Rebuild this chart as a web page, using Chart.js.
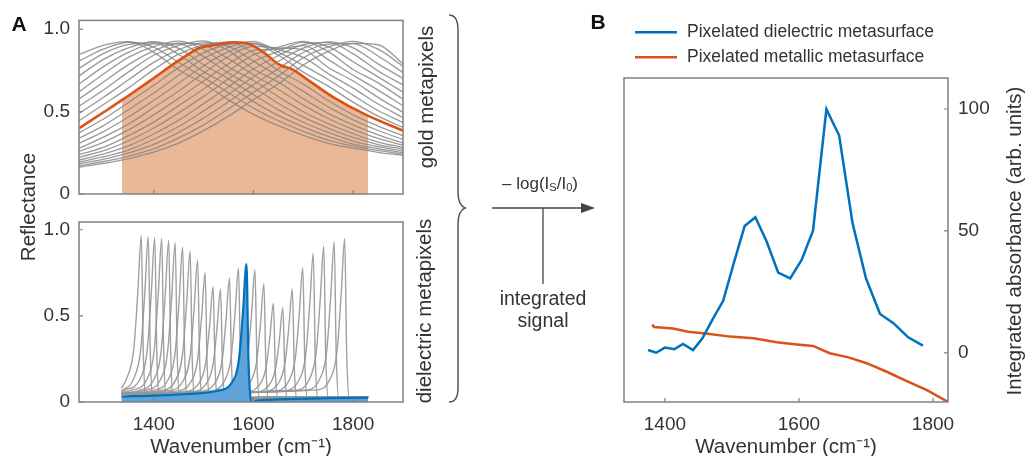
<!DOCTYPE html>
<html><head><meta charset="utf-8">
<script src="https://cdn.jsdelivr.net/npm/chart.js@4.4.0/dist/chart.umd.min.js"></script>
<style>
html,body{margin:0;padding:0;background:#fff;overflow:hidden;}
body{width:1026px;height:456px;position:relative;font-family:'Liberation Sans',Arial,sans-serif;color:#333;}
canvas{position:absolute;left:0;top:0;}
.t{position:absolute;white-space:nowrap;line-height:1;}
.c{transform:translate(-50%,-50%);}
.r{transform:translate(-50%,-50%) rotate(-90deg);}
.l{transform:translate(0,-50%);}
sub{font-size:0.65em;vertical-align:-0.25em;}
</style></head><body>
<canvas id="c1" width="1026" height="456"></canvas>
<canvas id="c2" width="1026" height="456"></canvas>
<canvas id="c3" width="1026" height="456"></canvas>
<svg width="1026" height="456" style="position:absolute;left:0;top:0;">
  <path d="M449,15 Q458,15 458,30 L458,192 Q458,205 465,208 Q458,211 458,224 L458,388 Q458,402 449,402" fill="none" stroke="#555" stroke-width="1.5"/>
  <line x1="492" y1="208" x2="584" y2="208" stroke="#444" stroke-width="1.3"/>
  <polygon points="595,208 581,203 581,213" fill="#444"/>
  <line x1="543" y1="208" x2="543" y2="284" stroke="#444" stroke-width="1.3"/>
  <line x1="635" y1="32.3" x2="677" y2="32.3" stroke="rgb(0,114,189)" stroke-width="2.5"/>
  <line x1="635" y1="57.3" x2="677" y2="57.3" stroke="rgb(217,83,25)" stroke-width="2.5"/>
</svg>
<div class="t c" style="left:19px;top:22.5px;font-size:21px;font-weight:bold;color:#111;">A</div>
<div class="t c" style="left:598px;top:20.5px;font-size:21px;font-weight:bold;color:#111;">B</div>
<div class="t r" style="left:28px;top:207px;font-size:20.5px;">Reflectance</div>
<div class="t r" style="left:426px;top:97px;font-size:20.5px;">gold metapixels</div>
<div class="t r" style="left:424px;top:311px;font-size:20.5px;">dielectric metapixels</div>
<div class="t r" style="left:1014px;top:241px;font-size:20.5px;">Integrated absorbance (arb. units)</div>
<div class="t c" style="left:540px;top:184px;font-size:17px;">– log(I<sub>S</sub>/I<sub>0</sub>)</div>
<div class="t c" style="left:543px;top:299px;font-size:19.5px;">integrated</div>
<div class="t c" style="left:543px;top:321px;font-size:19.5px;">signal</div>
<div class="t l" style="left:687px;top:31.7px;font-size:17.5px;">Pixelated dielectric metasurface</div>
<div class="t l" style="left:687px;top:57.2px;font-size:17.5px;">Pixelated metallic metasurface</div>
<script>
// ---------- DATA ----------
const wavenumberTicks = [1400, 1600, 1800];
const reflectanceTicks = [0, 0.5, 1];
const absorbanceTicks = [0, 50, 100];

// Panel A top: gold metapixel reflectance spectra (common wavenumber grid)
const goldWavenumbers = [1250,1300,1350,1400,1450,1500,1550,1600,1650,1700,1750,1800,1850,1900];
const goldReflectance = [
  [0.846,0.903,0.924,0.859,0.752,0.670,0.571,0.483,0.414,0.355,0.307,0.278,0.253,0.234],
  [0.806,0.880,0.920,0.890,0.797,0.707,0.614,0.521,0.444,0.380,0.327,0.290,0.264,0.242],
  [0.762,0.853,0.907,0.917,0.846,0.742,0.658,0.560,0.475,0.407,0.349,0.303,0.275,0.251],
  [0.716,0.818,0.887,0.923,0.883,0.784,0.698,0.602,0.510,0.435,0.373,0.321,0.287,0.261],
  [0.667,0.774,0.860,0.910,0.910,0.833,0.733,0.646,0.549,0.466,0.400,0.343,0.300,0.272],
  [0.620,0.729,0.830,0.894,0.927,0.876,0.771,0.688,0.590,0.499,0.427,0.366,0.315,0.283],
  [0.576,0.681,0.786,0.868,0.914,0.902,0.819,0.723,0.634,0.539,0.458,0.392,0.337,0.296],
  [0.532,0.632,0.742,0.841,0.901,0.929,0.868,0.758,0.678,0.578,0.489,0.419,0.359,0.309],
  [0.488,0.588,0.694,0.798,0.875,0.917,0.895,0.806,0.714,0.622,0.528,0.449,0.385,0.331],
  [0.444,0.544,0.645,0.754,0.848,0.904,0.922,0.855,0.749,0.666,0.567,0.480,0.412,0.353],
  [0.371,0.456,0.556,0.659,0.766,0.856,0.908,0.914,0.841,0.739,0.654,0.557,0.472,0.404],
  [0.337,0.416,0.512,0.612,0.720,0.822,0.889,0.925,0.860,0.780,0.694,0.598,0.506,0.433],
  [0.307,0.380,0.468,0.568,0.672,0.778,0.863,0.911,0.875,0.828,0.730,0.642,0.546,0.463],
  [0.277,0.346,0.425,0.524,0.624,0.733,0.834,0.896,0.885,0.874,0.767,0.685,0.586,0.495],
  [0.258,0.315,0.390,0.480,0.580,0.685,0.790,0.870,0.880,0.900,0.815,0.720,0.630,0.535],
  [0.238,0.284,0.355,0.436,0.536,0.637,0.746,0.844,0.890,0.926,0.863,0.755,0.674,0.575],
  [0.222,0.263,0.323,0.400,0.492,0.592,0.698,0.802,0.865,0.919,0.893,0.802,0.710,0.618],
  [0.206,0.243,0.293,0.364,0.448,0.548,0.650,0.758,0.840,0.905,0.919,0.850,0.746,0.662],
  [0.194,0.226,0.268,0.332,0.409,0.504,0.604,0.711,0.805,0.884,0.922,0.886,0.789,0.701],
  [0.183,0.211,0.249,0.301,0.374,0.460,0.560,0.663,0.760,0.858,0.909,0.912,0.837,0.736],
  [0.172,0.197,0.230,0.274,0.340,0.419,0.516,0.616,0.715,0.826,0.892,0.926,0.878,0.775],
  [0.163,0.186,0.215,0.254,0.309,0.384,0.472,0.572,0.668,0.782,0.865,0.913,0.905,0.790]
];
// highlighted gold metapixel (orange)
const goldHighlightWavenumbers = [1250,1300,1336,1392,1452,1492,1525,1562,1585,1619,1652,1679,1712,1759,1825,1900];
const goldHighlightReflectance = [0.398,0.497,0.569,0.686,0.813,0.885,0.905,0.920,0.916,0.862,0.784,0.754,0.686,0.589,0.481,0.384];
// integrated band (shaded) of the highlighted spectrum
const goldBandWavenumbers = [1336,1392,1452,1492,1525,1562,1585,1619,1652,1679,1712,1759,1825,1830];
const goldBandReflectance = [0.569,0.686,0.813,0.885,0.905,0.920,0.916,0.862,0.784,0.754,0.686,0.589,0.481,0.474];

// Panel A bottom: dielectric metapixel reflectance spectra, [wavenumber, reflectance]
const dielectricSpectra = [
  [[1335,.08],[1345,.132],[1360,.310],[1368,.637],[1375,.965],[1379,.290],[1385,.005],[1405,.015],[1830,.03]],
  [[1335,.065],[1359,.131],[1374,.308],[1382,.634],[1389,.96],[1393,.288],[1399,.005],[1419,.015],[1830,.03]],
  [[1335,.06],[1342,.069],[1372,.131],[1387,.307],[1395,.630],[1402,.955],[1406,.287],[1412,.005],[1432,.015],[1830,.03]],
  [[1335,.055],[1356,.069],[1386,.130],[1401,.306],[1409,.627],[1416,.95],[1420,.285],[1426,.005],[1446,.015],[1830,.03]],
  [[1335,.05],[1370,.068],[1400,.129],[1415,.303],[1423,.620],[1430,.94],[1434,.282],[1440,.005],[1460,.015],[1830,.03]],
  [[1335,.05],[1383,.068],[1413,.128],[1428,.298],[1436,.611],[1443,.925],[1447,.278],[1453,.005],[1473,.015],[1830,.03]],
  [[1335,.048],[1398,.067],[1428,.125],[1443,.291],[1451,.594],[1458,.90],[1462,.27],[1468,.005],[1488,.015],[1830,.03]],
  [[1335,.047],[1413,.066],[1443,.123],[1458,.284],[1466,.578],[1473,.875],[1477,.263],[1483,.005],[1503,.015],[1830,.03]],
  [[1335,.046],[1428,.065],[1458,.118],[1473,.269],[1481,.545],[1488,.825],[1492,.248],[1498,.005],[1518,.015],[1830,.03]],
  [[1335,.045],[1443,.063],[1473,.110],[1488,.248],[1496,.495],[1503,.75],[1507,.225],[1513,.005],[1533,.015],[1830,.03]],
  [[1335,.045],[1459,.060],[1489,.102],[1504,.224],[1512,.442],[1519,.67],[1523,.201],[1529,.005],[1549,.015],[1830,.03]],
  [[1335,.045],[1474,.060],[1504,.101],[1519,.220],[1527,.432],[1534,.655],[1538,.197],[1544,.005],[1564,.015],[1830,.03]],
  [[1335,.045],[1492,.062],[1522,.107],[1537,.239],[1545,.475],[1552,.72],[1556,.216],[1562,.005],[1582,.015],[1830,.03]],
  [[1335,.045],[1510,.063],[1540,.113],[1555,.256],[1563,.513],[1570,.778],[1574,.233],[1580,.005],[1600,.015],[1830,.03]],
  [[1335,.045],[1543,.063],[1573,.112],[1588,.253],[1596,.507],[1603,.768],[1607,.230],[1613,.005],[1633,.015],[1830,.03]],
  [[1335,.045],[1561,.061],[1591,.104],[1606,.229],[1614,.452],[1621,.685],[1625,.206],[1631,.005],[1651,.015],[1830,.03]],
  [[1335,.045],[1580,.057],[1610,.092],[1625,.196],[1633,.378],[1640,.572],[1644,.172],[1650,.005],[1670,.015],[1830,.03]],
  [[1335,.045],[1599,.056],[1629,.090],[1644,.189],[1652,.361],[1659,.547],[1663,.164],[1669,.005],[1689,.015],[1830,.03]],
  [[1335,.045],[1618,.060],[1648,.101],[1663,.221],[1671,.434],[1678,.657],[1682,.197],[1688,.005],[1708,.015],[1830,.03]],
  [[1335,.045],[1639,.063],[1669,.113],[1684,.256],[1692,.515],[1699,.78],[1703,.234],[1709,.005],[1729,.015],[1830,.03]],
  [[1335,.045],[1660,.066],[1690,.121],[1705,.280],[1713,.569],[1720,.862],[1724,.259],[1730,.005],[1750,.015],[1830,.03]],
  [[1335,.045],[1681,.067],[1711,.126],[1726,.292],[1734,.597],[1741,.905],[1745,.272],[1751,.005],[1771,.015],[1830,.03]],
  [[1335,.045],[1702,.068],[1732,.128],[1747,.300],[1755,.614],[1762,.93],[1766,.279],[1772,.005],[1792,.015],[1830,.03]],
  [[1335,.045],[1723,.069],[1753,.130],[1768,.306],[1776,.627],[1783,.95],[1787,.285],[1793,.005],[1813,.015],[1830,.03]]
];
// highlighted dielectric metapixel (blue)
const dielectricHighlight = [[1335,.032],[1400,.037],[1460,.045],[1526,.064],[1556,.11],[1571,.25],[1579,.52],[1586,.80],[1590,.24],[1596,.0],[1606,.008],[1650,.015],[1750,.022],[1830,.025]];

// Panel B: integrated absorbance
const dielectricWavenumbers = [1375,1387,1400,1414,1427,1442,1456,1472,1487,1503,1519,1535,1552,1569,1587,1604,1621,1641,1660,1680,1700,1721,1741,1763,1785];
const dielectricAbsorbance = [1.2,0.1,2.2,1.5,3.7,1.2,6.0,14.2,21.4,37.0,52.0,55.6,45.6,32.9,30.6,38.1,50.1,99.9,89.1,53.2,30.6,16.0,12.2,6.4,3.0];
const metallicWavenumbers = [1381,1384,1412,1435,1467,1497,1532,1567,1597,1621,1646,1674,1701,1731,1761,1791,1822];
const metallicAbsorbance = [11.6,10.6,10.0,8.7,7.8,6.7,6.0,4.4,3.5,2.9,-0.1,-1.8,-4.2,-7.7,-11.5,-15.2,-20.0];

// ---------- STYLE ----------
const BLUE = 'rgb(0,114,189)';
const ORANGE = 'rgb(217,83,25)';
const AXIS = '#808080';
const TEXT = '#333';
Chart.defaults.font.family = "'Liberation Sans', Arial, sans-serif";
Chart.defaults.color = TEXT;

const xy = (xs, ys) => xs.map((x, i) => ({x, y: ys[i]}));
const pairs = arr => arr.map(p => ({x: p[0], y: p[1]}));

const framePlugin = {
  id: 'frame',
  afterDatasetsDraw(chart, args, opts) {
    const {ctx, chartArea: a} = chart;
    const xs = chart.scales.x, ys = chart.scales.y;
    ctx.save();
    ctx.strokeStyle = AXIS;
    ctx.lineWidth = 1.5;
    ctx.strokeRect(a.left, a.top, a.right - a.left, a.bottom - a.top);
    ctx.lineWidth = 1.2;
    const len = 4;
    ctx.beginPath();
    (opts.xTicks || []).forEach(v => {
      const p = xs.getPixelForValue(v);
      ctx.moveTo(p, a.bottom); ctx.lineTo(p, a.bottom - len);
    });
    (opts.yTicks || []).forEach(v => {
      const p = ys.getPixelForValue(v);
      if (opts.right) { ctx.moveTo(a.right, p); ctx.lineTo(a.right - len, p); }
      else { ctx.moveTo(a.left, p); ctx.lineTo(a.left + len, p); }
    });
    ctx.stroke();
    ctx.restore();
  }
};

const base = {
  animation: false, responsive: false, events: [],
  plugins: {legend: {display: false}, tooltip: {enabled: false}}
};
const fmtR = v => v === 0 ? '0' : v.toFixed(1);
const fixTicks = vals => (s => { s.ticks = vals.map(v => ({value: v})); });
const xTitle = {display: true, text: 'Wavenumber (cm⁻¹)', font: {size: 20.5, lineHeight: 0.8}, padding: 0, color: TEXT};

// ---------- Chart A (top): gold ----------
new Chart(document.getElementById('c1'), {
  type: 'line',
  data: {datasets: [
    {data: xy(goldHighlightWavenumbers, goldHighlightReflectance), borderColor: ORANGE, borderWidth: 2.6, pointRadius: 0, cubicInterpolationMode: 'monotone', fill: false},
    ...goldReflectance.map(ys => ({data: xy(goldWavenumbers, ys), borderColor: 'rgba(135,135,135,0.85)', borderWidth: 1.3, pointRadius: 0, cubicInterpolationMode: 'monotone', fill: false})),
    {data: xy(goldBandWavenumbers, goldBandReflectance), borderWidth: 0, borderColor: 'rgba(0,0,0,0)', pointRadius: 0, backgroundColor: 'rgb(234,184,150)', fill: 'origin', cubicInterpolationMode: 'monotone'}
  ]},
  options: {...base,
    layout: {padding: {left: 0, top: 14, right: 623, bottom: 262}},
    plugins: {...base.plugins, frame: {xTicks: wavenumberTicks, yTicks: reflectanceTicks}},
    scales: {
      x: {type: 'linear', min: 1250, max: 1900, ticks: {display: false}, grid: {display: false, drawTicks: false}, border: {display: false}, afterFit(s) { s.height = 0; }},
      y: {type: 'linear', min: 0, max: 1.0526, afterBuildTicks: fixTicks(reflectanceTicks),
          ticks: {callback: fmtR, padding: 9, font: {size: 19}, color: TEXT},
          grid: {display: false, drawTicks: false}, border: {display: false}, afterFit(s) { s.width = 79; }}
    }
  },
  plugins: [framePlugin]
});

// ---------- Chart A (bottom): dielectric ----------
new Chart(document.getElementById('c2'), {
  type: 'line',
  data: {datasets: [
    {data: pairs(dielectricHighlight), borderColor: BLUE, borderWidth: 2.2, pointRadius: 0, backgroundColor: 'rgb(96,163,216)', fill: 'origin', cubicInterpolationMode: 'monotone'},
    ...dielectricSpectra.map(s => ({data: pairs(s), borderColor: 'rgba(150,150,150,0.9)', borderWidth: 1.4, pointRadius: 0, cubicInterpolationMode: 'monotone', fill: false}))
  ]},
  options: {...base,
    layout: {padding: {left: 0, top: 222, right: 623, bottom: 0}},
    plugins: {...base.plugins, frame: {xTicks: wavenumberTicks, yTicks: reflectanceTicks}},
    scales: {
      x: {type: 'linear', min: 1250, max: 1900, afterBuildTicks: fixTicks(wavenumberTicks),
          ticks: {padding: 11, font: {size: 19}, color: TEXT, maxRotation: 0, callback: v => String(v)},
          grid: {display: false, drawTicks: false}, border: {display: false}, title: xTitle,
          afterFit(s) { s.height = 54; }},
      y: {type: 'linear', min: 0, max: 1.045, afterBuildTicks: fixTicks(reflectanceTicks),
          ticks: {callback: fmtR, padding: 9, font: {size: 19}, color: TEXT},
          grid: {display: false, drawTicks: false}, border: {display: false}, afterFit(s) { s.width = 79; }}
    }
  },
  plugins: [framePlugin]
});

// ---------- Chart B ----------
new Chart(document.getElementById('c3'), {
  type: 'line',
  data: {datasets: [
    {label: 'Pixelated dielectric metasurface', data: xy(dielectricWavenumbers, dielectricAbsorbance), borderColor: BLUE, borderWidth: 2.5, pointRadius: 0, tension: 0, fill: false},
    {label: 'Pixelated metallic metasurface', data: xy(metallicWavenumbers, metallicAbsorbance), borderColor: ORANGE, borderWidth: 2.5, pointRadius: 0, tension: 0, fill: false}
  ]},
  options: {...base,
    layout: {padding: {left: 624, top: 78, right: 0, bottom: 0}},
    plugins: {...base.plugins, frame: {xTicks: wavenumberTicks, yTicks: absorbanceTicks, right: true}},
    scales: {
      x: {type: 'linear', min: 1339, max: 1822.4, afterBuildTicks: fixTicks(wavenumberTicks),
          ticks: {padding: 11, font: {size: 19}, color: TEXT, maxRotation: 0, callback: v => String(v)},
          grid: {display: false, drawTicks: false}, border: {display: false}, title: xTitle,
          afterFit(s) { s.height = 54; }},
      y: {type: 'linear', position: 'right', min: -20.1, max: 112.7, afterBuildTicks: fixTicks(absorbanceTicks),
          ticks: {padding: 10, font: {size: 19}, color: TEXT, callback: v => String(v)},
          grid: {display: false, drawTicks: false}, border: {display: false}, afterFit(s) { s.width = 78; }}
    }
  },
  plugins: [framePlugin]
});
</script>
</body></html>
